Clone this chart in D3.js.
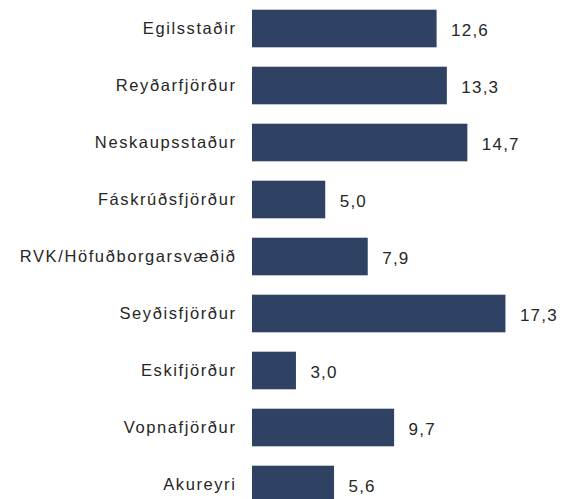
<!DOCTYPE html>
<html>
<head>
<meta charset="utf-8">
<script src="https://cdn.jsdelivr.net/npm/d3@7"></script>
<style>
  html, body { margin: 0; padding: 0; background: #fff; }
  svg { display: block; }
</style>
</head>
<body>
<svg id="chart" width="563" height="499"></svg>
<script>
const categories = ["Egilsstaðir", "Reyðarfjörður", "Neskaupsstaður", "Fáskrúðsfjörður",
  "RVK/Höfuðborgarsvæðið", "Seyðisfjörður", "Eskifjörður", "Vopnafjörður", "Akureyri"];
const values = [12.6, 13.3, 14.7, 5.0, 7.9, 17.3, 3.0, 9.7, 5.6];

const svg = d3.select("#chart");
const barLeft = 252;
const x = d3.scaleLinear().domain([0, 20]).range([barLeft, barLeft + 293]);
const y = d3.scaleBand().domain(categories).range([0, 513]).paddingInner(0.34).paddingOuter(0.17);
const fmt = v => d3.format(".1f")(v).replace(".", ",");
const data = categories.map((c, i) => ({ c, v: values[i] }));

svg.selectAll("rect.bar").data(data).join("rect")
  .attr("class", "bar")
  .attr("x", x(0))
  .attr("y", d => y(d.c))
  .attr("width", d => x(d.v) - x(0))
  .attr("height", y.bandwidth())
  .attr("fill", "#2F4263");

svg.selectAll("text.cat").data(data).join("text")
  .attr("class", "cat")
  .attr("x", 236.5)
  .attr("y", d => y(d.c) + y.bandwidth() / 2)
  .attr("dy", "0.35em")
  .attr("text-anchor", "end")
  .style("font-family", "'Liberation Sans', Arial, sans-serif")
  .style("font-size", "16.5px")
  .style("letter-spacing", "1.6px")
  .attr("fill", "#262626")
  .text(d => d.c);

svg.selectAll("text.val").data(data).join("text")
  .attr("class", "val")
  .attr("x", d => x(d.v) + 14.5)
  .attr("y", d => y(d.c) + y.bandwidth() / 2 + 1.5)
  .attr("dy", "0.35em")
  .style("font-family", "'Liberation Sans', Arial, sans-serif")
  .style("font-size", "17px")
  .style("letter-spacing", "1.2px")
  .attr("fill", "#262626")
  .text(d => fmt(d.v));
</script>
</body>
</html>
